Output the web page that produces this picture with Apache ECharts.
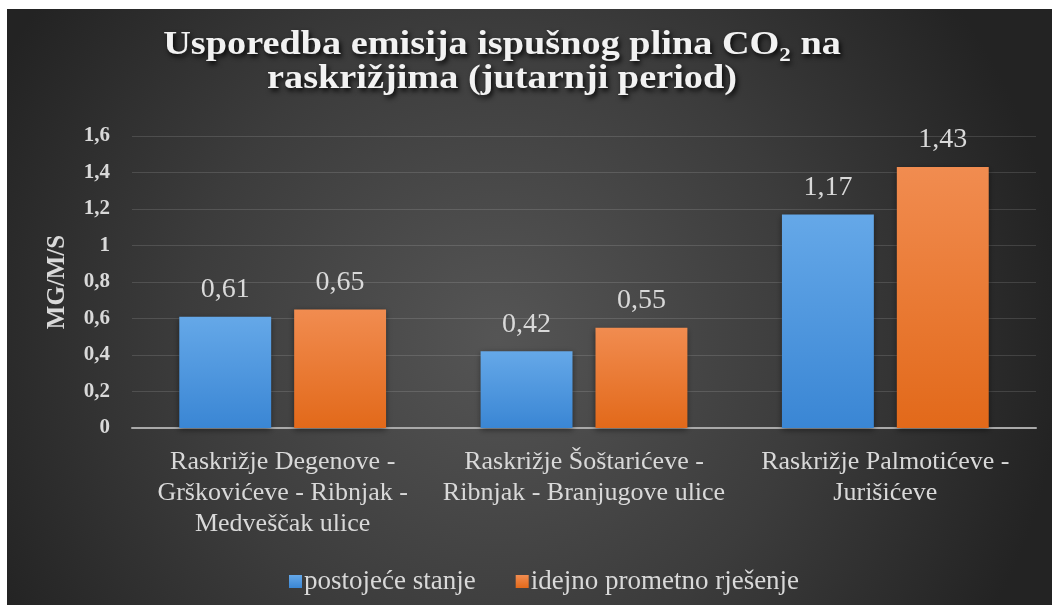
<!DOCTYPE html>
<html>
<head>
<meta charset="utf-8">
<script src="https://cdn.jsdelivr.net/npm/echarts@6/dist/echarts.min.js"></script>
<style>
  html, body { margin: 0; padding: 0; background: #ffffff; width: 1052px; height: 605px; overflow: hidden; }
  #chart { position: absolute; left: 7px; top: 9px; width: 1045px; height: 596px; }
</style>
</head>
<body>
<div id="chart"></div>
<script>
// Intersections (morning period)
const categories = [
  'Raskrižje Degenove -\nGrškovićeve - Ribnjak -\nMedveščak ulice',
  'Raskrižje Šoštarićeve -\nRibnjak - Branjugove ulice',
  'Raskrižje Palmotićeve -\nJurišićeve'
];
const seriesNames = ['postojeće stanje', 'idejno prometno rješenje'];
const existingState = [0.61, 0.42, 1.17];
const proposedSolution = [0.65, 0.55, 1.43];
const yTicks = { min: 0, max: 1.6, interval: 0.2 };
const titleText = 'Usporedba emisija ispušnog plina CO₂ na\nraskrižjima (jutarnji period)';

const serif = '"Liberation Serif", "Times New Roman", serif';
const comma = v => String(Math.round(v * 100) / 100).replace('.', ',');

const chart = echarts.init(document.getElementById('chart'));

function barGradient(top, bottom) {
  return new echarts.graphic.LinearGradient(0, 0, 0, 1, [
    { offset: 0, color: top },
    { offset: 1, color: bottom }
  ]);
}

const valueLabel = {
  show: true,
  position: 'top',
  distance: 13,
  fontFamily: serif,
  fontSize: 28,
  color: '#d9d9d9',
  formatter: p => comma(p.value)
};

chart.setOption({
  backgroundColor: {
    type: 'radial', x: 0.47, y: 0.55, r: 0.95,
    colorStops: [
      { offset: 0, color: '#555555' },
      { offset: 0.55, color: '#3c3c3c' },
      { offset: 1, color: '#232323' }
    ]
  },
  graphic: [{
    type: 'text',
    x: 495,
    y: 19,
    scaleX: 1.16,
    silent: true,
    style: {
      text: titleText,
      x: 0,
      y: 0,
      align: 'center',
      verticalAlign: 'top',
      font: 'bold 33px ' + serif,
      lineHeight: 34,
      fill: '#f2f2f2',
      textShadowColor: 'rgba(0,0,0,0.85)',
      textShadowBlur: 5,
      textShadowOffsetX: 2,
      textShadowOffsetY: 3
    }
  }],
  legend: {
    data: seriesNames,
    top: 554,
    left: 277,
    icon: 'rect',
    itemWidth: 13,
    itemHeight: 13,
    itemGap: 40,
    textStyle: { fontFamily: serif, fontSize: 27, color: '#d9d9d9', padding: [0, 0, 0, -3] }
  },
  grid: { left: 125, right: 16, top: 127, bottom: 177, containLabel: false },
  xAxis: {
    type: 'category',
    data: categories,
    axisTick: { show: false },
    axisLine: { lineStyle: { color: '#a9a9a9', width: 2 } },
    axisLabel: {
      interval: 0,
      margin: 19,
      fontFamily: serif,
      fontSize: 26,
      lineHeight: 31,
      color: '#d9d9d9'
    }
  },
  yAxis: {
    type: 'value',
    min: yTicks.min,
    max: yTicks.max,
    interval: yTicks.interval,
    name: 'MG/M/S',
    nameLocation: 'middle',
    nameGap: 62,
    nameRotate: 90,
    nameTextStyle: { fontFamily: serif, fontWeight: 'bold', fontSize: 25, color: '#d9d9d9' },
    axisLine: { show: false },
    axisTick: { show: false },
    axisLabel: {
      margin: 22,
      fontFamily: serif,
      fontWeight: 'bold',
      fontSize: 21,
      color: '#d9d9d9',
      formatter: v => comma(v)
    },
    splitLine: { lineStyle: { color: 'rgba(255,255,255,0.13)', width: 1 } }
  },
  series: [
    {
      name: seriesNames[0],
      type: 'bar',
      data: existingState,
      barWidth: '30.5%',
      barGap: '25%',
      itemStyle: {
        color: barGradient('#65a8e8', '#3a86d4'),
        shadowColor: 'rgba(0,0,0,0.45)',
        shadowBlur: 6,
        shadowOffsetY: 2
      },
      label: valueLabel
    },
    {
      name: seriesNames[1],
      type: 'bar',
      data: proposedSolution,
      barWidth: '30.5%',
      itemStyle: {
        color: barGradient('#f18c50', '#e2691a'),
        shadowColor: 'rgba(0,0,0,0.45)',
        shadowBlur: 6,
        shadowOffsetY: 2
      },
      label: valueLabel
    }
  ]
});
</script>
</body>
</html>
